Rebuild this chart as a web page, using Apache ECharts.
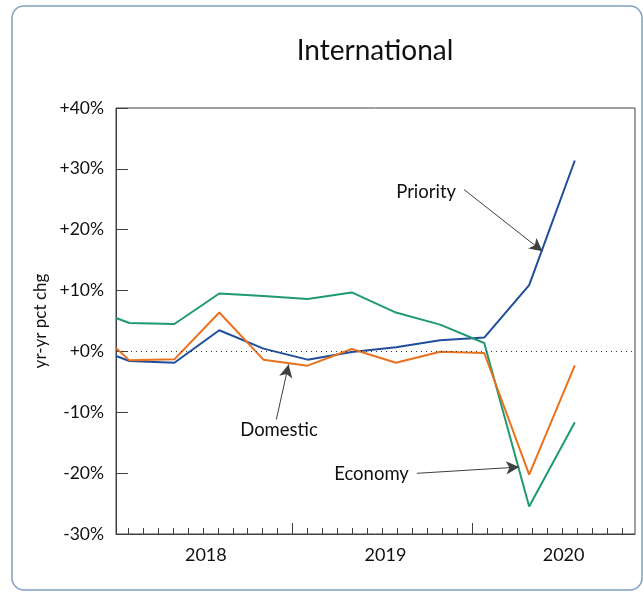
<!DOCTYPE html>
<html>
<head>
<meta charset="utf-8">
<script src="https://cdn.jsdelivr.net/npm/echarts@6/dist/echarts.min.js"></script>
<style>
  html, body { margin: 0; padding: 0; background: #fff; }
  #chart { width: 643px; height: 592px; }
</style>
</head>
<body>
<div id="chart"></div>
<script>
// x is in months counted from Jan 2018
var months = [0.2, 1.1, 4.1, 7.1, 10.05, 13.0, 15.95, 18.9, 21.85, 24.8, 27.8, 30.85];
var priority = [-0.76, -1.58, -1.85, 3.48, 0.46, -1.35, -0.1, 0.7, 1.83, 2.27, 10.9, 31.37];
var domestic = [0.56, -1.47, -1.3, 6.39, -1.35, -2.34, 0.4, -1.85, -0.05, -0.26, -20.25, -2.29];
var economy = [5.5, 4.68, 4.51, 9.52, 9.1, 8.63, 9.69, 6.39, 4.41, 1.38, -25.47, -11.63];

var monthTicks = [];
for (var m = 1; m <= 34; m++) monthTicks.push(m);
var yearTicks = [12, 24];
var yearLabels = ['2018', '2019', '2020'];
var yearLabelPos = [6.2, 18.2, 30.1];

// annotation arrows: [from, to] in [month, pct]
var arrows = [
    [[23.45, 26.6], [28.69, 16.45]],   // Priority
    [[10.91, -11.2], [11.73, -2.13]],  // Domestic
    [[20.29, -20.03], [27.13, -19.0]]  // Economy
];
var noteNames = ['Priority', 'Domestic', 'Economy'];
var notePos = [[20.92, 26.2], [11.09, -12.96], [17.27, -20.08]];

var FONT = 'Lato';
var xMin = 0.2, xMax = 34.87;

function pairs(vals) {
    return months.map(function (m, i) { return [m, vals[i]]; });
}

var chart = echarts.init(document.getElementById('chart'));

var option = {
    animation: false,
    backgroundColor: '#fff',
    textStyle: { fontFamily: FONT },
    graphic: [
        {
            type: 'rect',
            shape: { x: 12, y: 6, width: 630, height: 584, r: 12 },
            style: { fill: 'none', stroke: '#7f9fc0', lineWidth: 1.5 },
            silent: true
        },
        {
            type: 'text',
            x: 375, y: 51,
            style: {
                text: 'International', fill: '#111', font: '28px ' + FONT,
                textAlign: 'center', textVerticalAlign: 'middle'
            }
        }
    ],
    grid: {
        left: 116, right: 8, top: 108, bottom: 58,
        show: true, borderColor: '#404040', borderWidth: 1,
        containLabel: false
    },
    xAxis: [
        {
            type: 'value', min: xMin, max: xMax, position: 'bottom',
            axisLine: { show: true, onZero: false, lineStyle: { color: '#404040', width: 1 } },
            axisTick: { show: true, inside: true, length: 6, customValues: monthTicks,
                        lineStyle: { color: '#404040' } },
            axisLabel: { show: false },
            splitLine: { show: false }
        },
        {
            type: 'value', min: xMin, max: xMax, position: 'bottom', offset: 0,
            axisLine: { show: false, onZero: false },
            axisTick: { show: true, inside: true, length: 11, customValues: yearTicks,
                        lineStyle: { color: '#404040' } },
            axisLabel: {
                show: true, customValues: yearLabelPos, margin: 12,
                color: '#111', fontSize: 18, fontFamily: FONT,
                formatter: function (v) {
                    var i = yearLabelPos.indexOf(v);
                    return i >= 0 ? yearLabels[i] : '';
                }
            },
            splitLine: { show: false }
        }
    ],
    yAxis: {
        type: 'value', min: -30, max: 40, interval: 10,
        name: 'yr-yr pct chg', nameLocation: 'middle', nameGap: 59,
        nameTextStyle: { color: '#111', fontSize: 17, fontFamily: FONT },
        axisLine: { show: true, lineStyle: { color: '#404040', width: 1 } },
        axisTick: { show: true, inside: true, length: 12, lineStyle: { color: '#404040' } },
        axisLabel: {
            color: '#111', fontSize: 17.5, fontFamily: FONT, margin: 12,
            formatter: function (v) { return (v >= 0 ? '+' : '') + v + '%'; }
        },
        splitLine: { show: false }
    },
    series: [
        {
            name: 'Priority', type: 'line', data: pairs(priority),
            symbol: 'none', lineStyle: { color: '#1f4e9c', width: 2 },
            markLine: {
                silent: true, symbol: 'none',
                label: { show: false },
                lineStyle: { color: '#333', width: 1, type: [1, 4] },
                data: [{ yAxis: 0 }]
            }
        },
        {
            name: 'Economy', type: 'line', data: pairs(economy),
            symbol: 'none', lineStyle: { color: '#1f9a6f', width: 2 }
        },
        {
            name: 'Domestic', type: 'line', data: pairs(domestic),
            symbol: 'none', lineStyle: { color: '#e8711e', width: 2 },
            markLine: {
                silent: true, symbol: ['none', 'arrow'], symbolSize: [10, 13],
                label: { show: false },
                lineStyle: { color: '#404040', width: 1, type: 'solid' },
                data: arrows.map(function (a) {
                    return [{ coord: a[0] }, { coord: a[1] }];
                })
            },
            markPoint: {
                silent: true, symbol: 'circle', symbolSize: 0,
                label: { show: true, position: 'inside', color: '#111', fontSize: 18.5, fontFamily: FONT },
                data: noteNames.map(function (n, i) {
                    return { coord: notePos[i], label: { formatter: n } };
                })
            }
        }
    ]
};

chart.setOption(option);
</script>
</body>
</html>
